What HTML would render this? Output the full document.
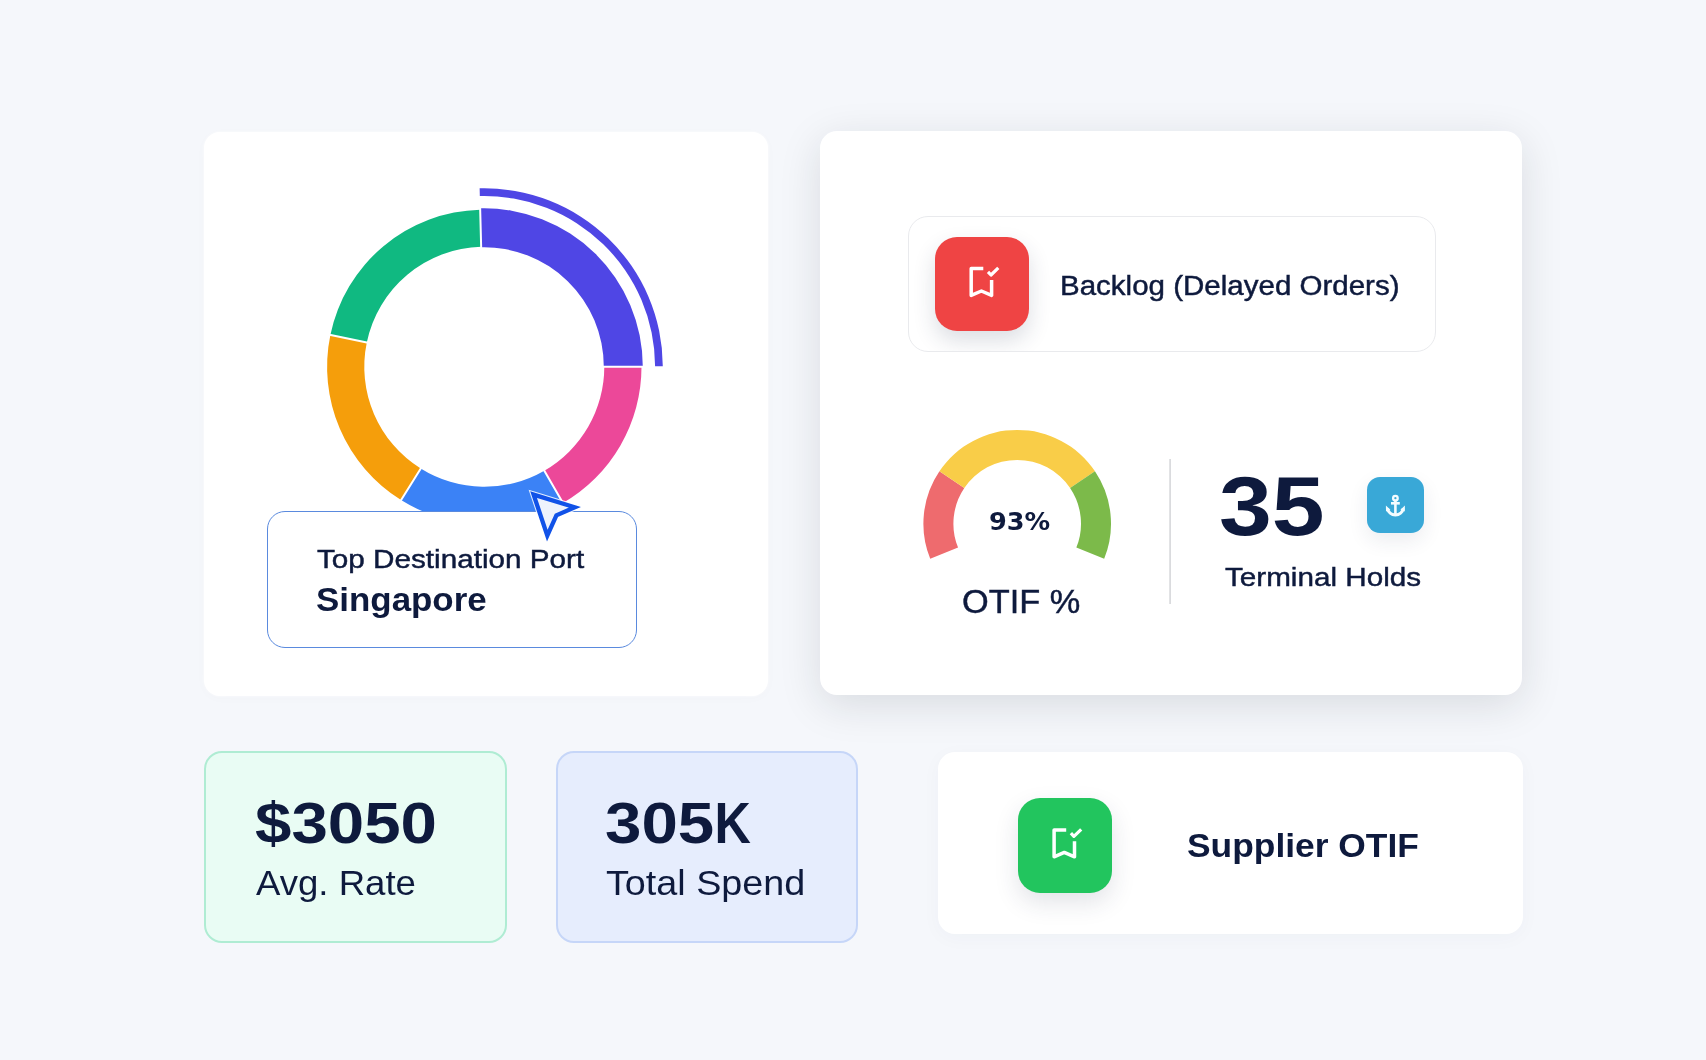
<!DOCTYPE html>
<html lang="en">
<head>
<meta charset="utf-8">
<title>Dashboard</title>
<style>
*{box-sizing:border-box;margin:0;padding:0}
html,body{width:1706px;height:1060px;overflow:hidden}
body{background:#f5f7fb;font-family:"Liberation Sans",sans-serif;color:#0e1a3d;position:relative}
.abs{position:absolute}
.card{position:absolute;background:#fff}
.t{position:absolute;white-space:nowrap;line-height:1;color:#0e1a3d;transform-origin:0 0;will-change:transform}
.t{-webkit-text-stroke:.45px #0e1a3d}
.b{font-weight:700;-webkit-text-stroke:0}
svg{position:absolute;left:0;top:0;overflow:visible}
</style>
</head>
<body>

<!-- left donut card -->
<div class="card" id="c1" style="left:203.5px;top:131.5px;width:564px;height:564.5px;border-radius:16px;box-shadow:0 0 3px rgba(255,255,255,.9),0 2px 12px rgba(40,50,90,.02)"></div>

<!-- right card -->
<div class="card" id="c2" style="left:820px;top:131.3px;width:702.3px;height:563.7px;border-radius:17px;box-shadow:0 10px 42px rgba(25,30,42,.125)"></div>

<!-- supplier card -->
<div class="card" id="c5" style="left:937.5px;top:751.5px;width:585px;height:182px;border-radius:17px;box-shadow:0 4px 20px rgba(40,50,90,.03)"></div>

<!-- green stat card -->
<div class="card" id="c3" style="left:204px;top:750.6px;width:303px;height:192px;border-radius:18px;background:#e9fcf4;border:2px solid #afecd3"></div>
<!-- blue stat card -->
<div class="card" id="c4" style="left:555.6px;top:750.6px;width:302.4px;height:192px;border-radius:18px;background:#e6edfd;border:2px solid #c6d6f8"></div>

<!-- charts -->
<svg width="1706" height="1060" viewBox="0 0 1706 1060" id="charts">
<g>
<path d="M641.50 366.80A157.2 157.2 0 0 1 562.90 502.94L544.30 470.72A120 120 0 0 0 604.30 366.80Z" fill="#ec4899"/>
<path d="M562.90 502.94A157.2 157.2 0 0 1 401.00 500.11L420.71 468.57A120 120 0 0 0 544.30 470.72Z" fill="#3b82f6"/>
<path d="M401.00 500.11A157.2 157.2 0 0 1 330.37 334.92L366.79 342.47A120 120 0 0 0 420.71 468.57Z" fill="#f59e0b"/>
<path d="M330.37 334.92A157.2 157.2 0 0 1 480.18 209.65L481.16 246.84A120 120 0 0 0 366.79 342.47Z" fill="#10b981"/>
<path d="M480.15 208.35A158.5 158.5 0 0 1 642.80 366.80L603.80 366.80A119.5 119.5 0 0 0 481.17 247.34Z" fill="#4f46e5"/>
</g>
<path d="M601.80 366.80L644.80 366.80M543.05 468.56L564.55 505.80M422.03 466.45L399.25 502.91M369.24 342.97L327.13 334.25M481.22 249.34L480.10 206.35" stroke="#fff" stroke-width="2" fill="none"/>
<path d="M479.63 188.36A178.5 178.5 0 0 1 662.80 366.18L655.10 366.20A170.8 170.8 0 0 0 479.83 196.06Z" fill="#4f46e5"/>
<!-- gauge -->
<path d="M930.23 558.84A93.8 93.8 0 0 1 939.44 471.25L964.31 488.02A63.8 63.8 0 0 0 958.05 547.60Z" fill="#ee6b6e"/>
<path d="M939.44 471.25A93.8 93.8 0 0 1 1094.96 471.25L1070.09 488.02A63.8 63.8 0 0 0 964.31 488.02Z" fill="#f9cd48"/>
<path d="M1094.96 471.25A93.8 93.8 0 0 1 1104.17 558.84L1076.35 547.60A63.8 63.8 0 0 0 1070.09 488.02Z" fill="#7cba4a"/>
<!-- divider -->
<rect x="1169.3" y="459" width="1.6" height="145" fill="#d6d7db"/>
</svg>

<!-- tooltip -->
<div class="abs" id="tip" style="left:267px;top:510.8px;width:370px;height:137px;border-radius:18px;background:#fff;border:1px solid #5a8ade"></div>
<div class="t" id="t_top" style="left:317.2px;top:546.4px;font-size:26px;transform:scaleX(1.141)">Top Destination Port</div>
<div class="t b" id="t_sing" style="left:316.3px;top:583.4px;font-size:33.5px;transform:scaleX(1.042)">Singapore</div>

<!-- cursor -->
<svg width="1706" height="1060" viewBox="0 0 1706 1060" id="cursor">
<path d="M533.6 494.6L574.8 507.3L556.4 515.4L547.3 535.6Z" fill="#eef2fc" stroke="#fff" stroke-opacity=".85" stroke-width="6.4" stroke-linejoin="miter"/>
<path d="M533.6 494.6L574.8 507.3L556.4 515.4L547.3 535.6Z" fill="#eef2fc" stroke="#1152e8" stroke-width="4.3" stroke-linejoin="miter"/>
</svg>

<!-- backlog pill -->
<div class="abs" id="pill" style="left:908px;top:216px;width:527.8px;height:135.6px;border-radius:20px;background:#fff;border:1px solid #e9eaed;overflow:hidden"><div class="abs" id="red" style="left:25.6px;top:19.5px;width:94.5px;height:94.8px;border-radius:22px;background:#ef4444;box-shadow:0 10px 22px rgba(40,48,80,.16)"></div></div>
<svg width="1706" height="1060" viewBox="0 0 1706 1060" id="ic1" fill="none" stroke="#fff" stroke-width="3.5" stroke-linejoin="round">
<path d="M983.3 268.6H971.2V295.4L981.4 291L991.6 295.4V279.9"/>
<path d="M988 271.8L991 275L998.3 267.9" stroke-width="3.2"/>
</svg>
<div class="t" id="t_back" style="left:1059.6px;top:273.1px;font-size:27px;transform:scaleX(1.093)">Backlog (Delayed Orders)</div>

<!-- gauge texts -->
<div class="t b" id="t_93" style="left:989.2px;top:509.8px;font-size:24px;transform:scaleX(1.065);font-family:'DejaVu Sans','Liberation Sans',sans-serif">93%</div>
<div class="t" id="t_otif" style="left:962.3px;top:586px;font-size:32.5px;transform:scaleX(1.057)">OTIF %</div>

<!-- 35 -->
<div class="t b" id="t_35" style="left:1218.8px;top:464.2px;font-size:84px;transform:scaleX(1.13)">35</div>
<div class="abs" id="blue" style="left:1366.9px;top:477.4px;width:57px;height:56px;border-radius:13px;background:#39a8d7;box-shadow:0 8px 20px rgba(40,48,80,.085)"></div>
<svg width="1706" height="1060" viewBox="0 0 1706 1060" id="ic2" fill="none" stroke="#f4fcff" stroke-width="2.6">
<circle cx="1395.4" cy="498.2" r="2.3" stroke-width="2.3"/>
<path d="M1395.4 500.6V515"/>
<path d="M1391 503.3H1399.8"/>
<path d="M1387.5 508.2A8 8 0 0 0 1403.3 508.2" stroke-width="3"/>
<path d="M1385.9 505.4L1390.4 509.8L1386 511.6Z M1404.9 505.4L1400.4 509.8L1404.8 511.6Z" fill="#f4fcff" stroke="none"/>
</svg>
<div class="t" id="t_term" style="left:1225px;top:563.5px;font-size:26px;transform:scaleX(1.14)">Terminal Holds</div>

<!-- stat texts -->
<div class="t b" id="t_3050" style="left:254.8px;top:794.4px;font-size:58px;transform:scaleX(1.128)">$3050</div>
<div class="t" id="t_avg" style="-webkit-text-stroke:0;left:255.6px;top:864.6px;font-size:35px;transform:scaleX(1.045)">Avg. Rate</div>
<div class="t b" id="t_305k" style="left:605.3px;top:794.4px;font-size:58px;transform:scaleX(1.128)">305<span style="display:inline-block;transform-origin:0 0;transform:scaleX(.77)">K</span></div>
<div class="t" id="t_total" style="-webkit-text-stroke:0;left:606.2px;top:864.6px;font-size:35px;transform:scaleX(1.078)">Total Spend</div>

<!-- supplier -->
<div class="abs" id="green" style="left:1017.5px;top:798px;width:94.5px;height:94.5px;border-radius:22px;background:#22c55e;box-shadow:0 10px 24px rgba(40,48,80,.13)"></div>
<svg width="1706" height="1060" viewBox="0 0 1706 1060" id="ic3" fill="none" stroke="#fff" stroke-width="3.5" stroke-linejoin="round">
<g transform="translate(82.9 561.4)">
<path d="M983.3 268.6H971.2V295.4L981.4 291L991.6 295.4V279.9"/>
<path d="M988 271.8L991 275L998.3 267.9" stroke-width="3.2"/>
</g>
</svg>
<div class="t b" id="t_sup" style="left:1186.6px;top:828.2px;font-size:34px;transform:scaleX(1.04)">Supplier OTIF</div>

</body>
</html>
